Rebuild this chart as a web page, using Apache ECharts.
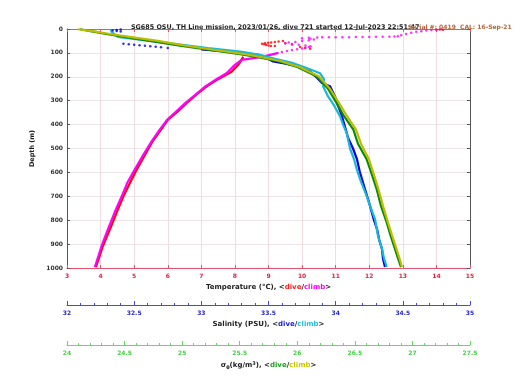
<!DOCTYPE html>
<html><head><meta charset="utf-8">
<script src="https://cdn.jsdelivr.net/npm/echarts@6/dist/echarts.min.js"></script>
<style>html,body{margin:0;padding:0;background:#fff}#c{width:520px;height:390px}</style>
</head><body><div id="c"></div>
<script>
// ---- Temperature (dive = red, climb = magenta) ----
var tDiveDepth = [117, 150, 179, 210, 240, 275, 310, 345, 380, 421, 470, 532, 570, 600, 642, 700, 767, 837, 908, 996];
var tDiveVal   = [8.25, 8.1, 7.9, 7.5, 7.16, 6.85, 6.56, 6.3, 6.0, 5.8, 5.55, 5.3, 5.15, 5.03, 4.88, 4.68, 4.48, 4.28, 4.07, 3.86];
var tDiveDotDepth = [2, 3, 4, 50, 52, 54, 56, 58, 60, 62, 64, 67, 69, 71, 71, 75, 79, 83, 60, 65];
var tDiveDotVal   = [14.1, 14.2, 14.0, 9.43, 9.3, 9.19, 9.08, 8.99, 8.9, 8.81, 8.87, 8.93, 9.0, 9.07, 9.19, 9.94, 10.09, 10.24, 9.5, 9.7];
var tClimbDepth = [996, 908, 837, 767, 700, 642, 600, 532, 470, 421, 380, 345, 310, 275, 240, 210, 185, 150, 129, 118, 108, 100];
var tClimbVal   = [3.83, 4.03, 4.22, 4.42, 4.63, 4.8, 4.97, 5.25, 5.52, 5.76, 5.98, 6.25, 6.52, 6.82, 7.12, 7.45, 7.75, 8.0, 8.2, 8.75, 9.05, 9.3];
var tClimbDotDepth = [96, 92, 88, 85, 82, 78, 75, 72, 69, 66, 63, 60, 57, 54, 50, 47, 44, 41, 39, 37, 36, 35, 35, 34, 34, 34, 33, 33, 33, 32, 32, 32, 31, 30, 26, 21, 16, 12, 9, 6, 4, 2, 1];
var tClimbDotVal   = [9.4, 9.55, 9.7, 9.85, 10.0, 10.1, 10.2, 10.25, 10.1, 9.9, 9.7, 9.5, 9.6, 9.8, 10.0, 10.2, 10.35, 10.25, 10.0, 10.2, 10.45, 10.6, 10.8, 11.0, 11.2, 11.4, 11.6, 11.8, 12.0, 12.2, 12.4, 12.6, 12.75, 12.85, 12.95, 13.1, 13.25, 13.4, 13.55, 13.7, 13.85, 14.0, 14.15];

// ---- Salinity (dive = blue, climb = cyan) ----
var sDiveDepth = [85, 95, 108, 122, 136, 150, 165, 178, 200, 226, 240, 282, 320, 365, 410, 455, 500, 546, 601, 670, 740, 800, 837, 880, 921, 960, 996];
var sDiveVal   = [33.0, 33.2, 33.42, 33.49, 33.534, 33.682, 33.749, 33.809, 33.854, 33.898, 33.958, 33.995, 34.017, 34.047, 34.07, 34.092, 34.129, 34.159, 34.181, 34.218, 34.256, 34.285, 34.308, 34.323, 34.345, 34.352, 34.367];
var sDiveDotDepth = [2, 4, 6, 8, 10, 62, 64, 66, 68, 70, 72, 74, 76, 79];
var sDiveDotVal   = [32.4, 32.37, 32.34, 32.37, 32.4, 32.42, 32.46, 32.5, 32.54, 32.58, 32.62, 32.66, 32.7, 32.75];
var sClimbDepth = [996, 960, 921, 865, 796, 740, 699, 640, 587, 546, 500, 435, 400, 365, 320, 282, 240, 210, 185, 165, 143, 125, 108, 95, 80, 62, 45, 33, 20, 11, 4];
var sClimbVal   = [34.38, 34.36, 34.345, 34.315, 34.293, 34.256, 34.231, 34.189, 34.157, 34.137, 34.107, 34.082, 34.055, 34.032, 33.988, 33.943, 33.906, 33.913, 33.883, 33.794, 33.685, 33.548, 33.437, 33.29, 33.05, 32.8, 32.54, 32.38, 32.35, 32.33, 32.33];

// ---- Sigma-theta (dive = green, climb = yellow) ----
var dDiveDepth = [1, 10, 21, 35, 50, 70, 88, 105, 118, 135, 160, 199, 250, 310, 365, 421, 480, 546, 610, 671, 740, 810, 870, 921, 960, 996];
var dDiveVal   = [24.113, 24.217, 24.339, 24.53, 24.721, 24.981, 25.242, 25.503, 25.659, 25.833, 26.006, 26.169, 26.267, 26.342, 26.406, 26.487, 26.527, 26.603, 26.649, 26.69, 26.727, 26.777, 26.814, 26.849, 26.875, 26.901];
var dClimbDepth = [996, 960, 921, 870, 810, 740, 671, 610, 546, 480, 421, 365, 310, 250, 199, 160, 135, 118, 105, 88, 70, 50, 35, 21, 10, 1];
var dClimbVal   = [26.909, 26.888, 26.862, 26.827, 26.788, 26.744, 26.705, 26.666, 26.623, 26.553, 26.51, 26.432, 26.363, 26.284, 26.189, 26.024, 25.859, 25.694, 25.546, 25.285, 25.034, 24.79, 24.573, 24.373, 24.234, 24.096];

// ---- text ----
var titleText = 'SG685 OSU, TH Line mission, 2023/01/26, dive 721 started 12-Jul-2023 22:51:47';
var serialText = 'Serial #: 0419  CAL: 16-Sep-21';

function pairs(vals, depths){ return vals.map(function(v,i){ return [v, depths[i]]; }); }

var FONT = 'DejaVu Sans';
var C = {red:'#ff0000', mag:'#ff00ff', blue:'#0000e0', cyan:'#1ab8d8', green:'#0a8a0a', yel:'#bcbc00'};

function lineSeries(name, data, xi, color){
  return {name:name, type:'line', xAxisIndex:xi, yAxisIndex:0, data:data, showSymbol:false, symbol:'none',
          lineStyle:{color:color, width:2.2}, animation:false, silent:true, z:3};
}
function dotSeries(name, data, xi, color){
  return {name:name, type:'scatter', xAxisIndex:xi, yAxisIndex:0, data:data, symbolSize:2.5,
          itemStyle:{color:color}, animation:false, silent:true, z:3};
}

var baseLabel = {fontFamily:FONT, fontSize:6, fontWeight:'bold'};
var nameRich = function(c1, c2){
  return {fontFamily:FONT, fontSize:7, fontWeight:'bold', color:'#222',
    rich:{ b:{fontFamily:FONT, fontSize:7, fontWeight:'bold', color:'#222'},
           d:{fontFamily:FONT, fontSize:7, fontWeight:'bold', color:c1},
           c:{fontFamily:FONT, fontSize:7, fontWeight:'bold', color:c2},
           s:{fontFamily:FONT, fontSize:5, fontWeight:'bold', color:'#222', verticalAlign:'bottom', padding:[4,0,0,0]},
           p:{fontFamily:FONT, fontSize:5, fontWeight:'bold', color:'#222', verticalAlign:'top', padding:[0,0,4,0]} }};
};

var chart = echarts.init(document.getElementById('c'), null, {renderer:'canvas'});
chart.setOption({
  backgroundColor:'#fff',
  animation:false,
  title:[
    {text:titleText, left:126, top:19, textStyle:{fontFamily:FONT, fontSize:6.4, fontWeight:'bold', color:'#222'}},
    {text:serialText, left:403, top:19, textStyle:{fontFamily:FONT, fontSize:6, fontWeight:'bold', color:'#b5653a'}}
  ],
  grid:{left:67, right:50, top:29, bottom:122, containLabel:false},
  xAxis:[
    {type:'value', position:'bottom', min:3, max:15, interval:1,
     axisLine:{show:true, onZero:false, lineStyle:{color:'#e8506e', width:1}},
     axisTick:{show:true, inside:true, length:3, lineStyle:{color:'#e8506e'}},
     axisLabel:Object.assign({color:'#e02040', margin:5}, baseLabel),
     splitLine:{show:true, lineStyle:{color:'#f0dde2', width:1}},
     name:'{b|Temperature (°C), <}{d|dive}{b|/}{c|climb}{b|>}', nameLocation:'middle', nameGap:14,
     nameTextStyle:nameRich('#ff2020', '#ff00ff')},
    {type:'value', position:'bottom', offset:37, min:32, max:35, interval:0.5,
     axisLine:{show:true, onZero:false, lineStyle:{color:'#4848e0', width:1}},
     axisTick:{show:true, inside:true, length:4, lineStyle:{color:'#4848e0'}},
     minorTick:{show:true, splitNumber:5, length:2, lineStyle:{color:'#4848e0'}},
     axisLabel:Object.assign({color:'#2020d0', margin:5}, baseLabel),
     splitLine:{show:false},
     name:'{b|Salinity (PSU), <}{d|dive}{b|/}{c|climb}{b|>}', nameLocation:'middle', nameGap:12,
     nameTextStyle:nameRich('#2020e0', '#20c0d8')},
    {type:'value', position:'bottom', offset:77, min:24, max:27.5, interval:0.5,
     axisLine:{show:true, onZero:false, lineStyle:{color:'#5ce05c', width:1}},
     axisTick:{show:true, inside:true, length:4, lineStyle:{color:'#5ce05c'}},
     minorTick:{show:true, splitNumber:5, length:2, lineStyle:{color:'#5ce05c'}},
     axisLabel:Object.assign({color:'#40d040', margin:5}, baseLabel),
     splitLine:{show:false},
     name:'{b|σ}{s|θ}{b|(kg/m}{p|3}{b|), <}{d|dive}{b|/}{c|climb}{b|>}', nameLocation:'middle', nameGap:15,
     nameTextStyle:nameRich('#20a020', '#c8c800')},
    {type:'value', position:'top', min:3, max:15, interval:1,
     axisLine:{show:true, onZero:false, lineStyle:{color:'#e8506e', width:1}},
     axisTick:{show:true, inside:true, length:3, lineStyle:{color:'#e8506e'}},
     axisLabel:{show:false}, splitLine:{show:false}}
  ],
  yAxis:[
    {type:'value', inverse:true, min:0, max:1000, interval:100,
     axisLine:{show:true, onZero:false, lineStyle:{color:'#555', width:1}},
     axisTick:{show:true, inside:true, length:3, lineStyle:{color:'#555'}},
     axisLabel:Object.assign({color:'#333', margin:4, formatter:function(v){return String(v);}}, baseLabel),
     splitLine:{show:true, lineStyle:{color:'#ece4e6', width:1}},
     name:'Depth (m)', nameLocation:'middle', nameGap:22, nameRotate:90,
     nameTextStyle:{fontFamily:FONT, fontSize:6.5, fontWeight:'bold', color:'#222'}},
    {type:'value', inverse:true, min:0, max:1000, interval:100, position:'right',
     axisLine:{show:true, onZero:false, lineStyle:{color:'#555', width:1}},
     axisTick:{show:true, inside:true, length:3, lineStyle:{color:'#555'}},
     axisLabel:{show:false}, splitLine:{show:false}}
  ],
  series:[
    lineSeries('T dive', pairs(tDiveVal, tDiveDepth), 0, C.red),
    dotSeries('T dive dots', pairs(tDiveDotVal, tDiveDotDepth), 0, C.red),
    lineSeries('T climb', pairs(tClimbVal, tClimbDepth), 0, C.mag),
    dotSeries('T climb dots', pairs(tClimbDotVal, tClimbDotDepth), 0, C.mag),
    lineSeries('S dive', pairs(sDiveVal, sDiveDepth), 1, C.blue),
    dotSeries('S dive dots', pairs(sDiveDotVal, sDiveDotDepth), 1, C.blue),
    lineSeries('S climb', pairs(sClimbVal, sClimbDepth), 1, C.cyan),
    lineSeries('D dive', pairs(dDiveVal, dDiveDepth), 2, C.green),
    lineSeries('D climb', pairs(dClimbVal, dClimbDepth), 2, C.yel)
  ]
});
</script></body></html>
